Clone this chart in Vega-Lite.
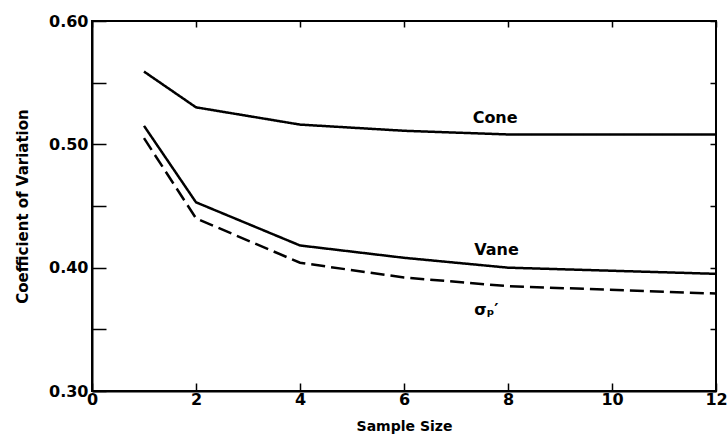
{
  "$schema": "https://vega.github.io/schema/vega-lite/v6.json",
  "width": 624,
  "height": 370,
  "autosize": "none",
  "padding": {"left": 92, "top": 21, "right": 12, "bottom": 53},
  "background": "white",
  "config": {
    "view": {"stroke": "black", "strokeWidth": 2},
    "font": "DejaVu Sans"
  },
  "resolve": {"axis": {"x": "independent", "y": "independent"}},
  "datasets": {
    "curves": [
      {"n": 1, "cv": 0.559, "series": "Cone"},
      {"n": 2, "cv": 0.530, "series": "Cone"},
      {"n": 4, "cv": 0.516, "series": "Cone"},
      {"n": 6, "cv": 0.511, "series": "Cone"},
      {"n": 8, "cv": 0.508, "series": "Cone"},
      {"n": 12, "cv": 0.508, "series": "Cone"},
      {"n": 1, "cv": 0.515, "series": "Vane"},
      {"n": 2, "cv": 0.453, "series": "Vane"},
      {"n": 4, "cv": 0.418, "series": "Vane"},
      {"n": 6, "cv": 0.408, "series": "Vane"},
      {"n": 8, "cv": 0.400, "series": "Vane"},
      {"n": 12, "cv": 0.395, "series": "Vane"},
      {"n": 1, "cv": 0.505, "series": "Sigma"},
      {"n": 2, "cv": 0.440, "series": "Sigma"},
      {"n": 4, "cv": 0.404, "series": "Sigma"},
      {"n": 6, "cv": 0.392, "series": "Sigma"},
      {"n": 8, "cv": 0.385, "series": "Sigma"},
      {"n": 12, "cv": 0.379, "series": "Sigma"}
    ],
    "labels": [
      {"n": 7.32, "cv": 0.521, "text": "Cone"},
      {"n": 7.35, "cv": 0.414, "text": "Vane"},
      {"n": 7.35, "cv": 0.366, "text": "σₚ′"}
    ]
  },
  "layer": [
    {
      "data": {"name": "curves"},
      "mark": {"type": "line", "color": "black", "strokeWidth": 2.5},
      "encoding": {
        "x": {
          "field": "n", "type": "quantitative",
          "scale": {"domain": [0, 12], "nice": false},
          "axis": {
            "orient": "bottom",
            "title": "Sample Size", "values": [0, 2, 4, 6, 8, 10, 12],
            "grid": false, "tickSize": -8, "tickWidth": 1.5, "tickColor": "black",
            "domainColor": "black", "domainWidth": 2,
            "labelFont": "DejaVu Sans", "labelFontWeight": "bold", "labelFontSize": 16,
            "labelColor": "black", "labelPadding": 8, "labelFlush": false,
            "titleFont": "DejaVu Sans", "titleFontWeight": "bold", "titleFontSize": 14,
            "titleColor": "black", "titlePadding": 12
          }
        },
        "y": {
          "field": "cv", "type": "quantitative",
          "scale": {"domain": [0.30, 0.60], "nice": false, "zero": false},
          "axis": {
            "orient": "left",
            "title": "Coefficient of Variation",
            "values": [0.30, 0.35, 0.40, 0.45, 0.50, 0.55, 0.60],
            "labelExpr": "indexof(['0.30','0.40','0.50','0.60'], format(datum.value, '.2f')) >= 0 ? format(datum.value, '.2f') : ''",
            "grid": false, "tickSize": -14, "tickWidth": 1.5, "tickColor": "black",
            "domainColor": "black", "domainWidth": 2,
            "labelFont": "DejaVu Sans", "labelFontWeight": "bold", "labelFontSize": 16,
            "labelColor": "black", "labelPadding": 18, "labelFlush": false,
            "titleFont": "DejaVu Sans", "titleFontWeight": "bold", "titleFontSize": 15,
            "titleColor": "black", "titlePadding": 18
          }
        },
        "detail": {"field": "series"},
        "strokeDash": {
          "field": "series", "type": "nominal",
          "scale": {"domain": ["Cone", "Vane", "Sigma"], "range": [[1, 0], [1, 0], [14, 6]]},
          "legend": null
        }
      }
    },
    {
      "data": {"name": "curves"},
      "mark": {"type": "point", "opacity": 0},
      "encoding": {
        "x": {
          "field": "n", "type": "quantitative",
          "axis": {"orient": "top", "title": null, "labels": false, "values": [0, 2, 4, 6, 8, 10, 12], "grid": false, "tickSize": -6, "tickWidth": 1.5, "tickColor": "black", "domain": false}
        },
        "y": {
          "field": "cv", "type": "quantitative",
          "axis": {"orient": "right", "title": null, "labels": false, "values": [0.30, 0.35, 0.40, 0.45, 0.50, 0.55, 0.60], "grid": false, "tickSize": -6, "tickWidth": 1.5, "tickColor": "black", "domain": false}
        }
      }
    },
    {
      "data": {"name": "labels"},
      "mark": {"type": "text", "font": "DejaVu Sans", "fontWeight": "bold", "fontSize": 16, "color": "black", "align": "left", "baseline": "middle"},
      "encoding": {
        "x": {"field": "n", "type": "quantitative", "axis": null},
        "y": {"field": "cv", "type": "quantitative", "axis": null},
        "text": {"field": "text"}
      }
    }
  ]
}
